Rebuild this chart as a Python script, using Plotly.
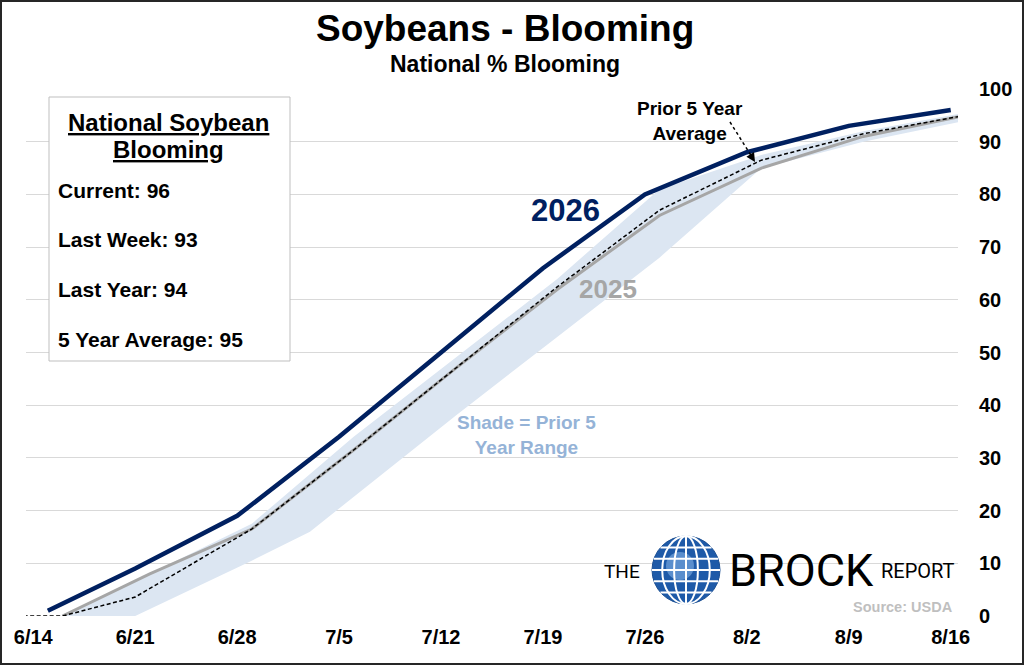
import plotly.graph_objects as go
import math

# ---------------- data ----------------
dates_2026 = ['2026-06-15', '2026-06-21', '2026-06-28', '2026-07-05', '2026-07-12',
              '2026-07-19', '2026-07-26', '2026-08-02', '2026-08-09', '2026-08-16']
vals_2026 = [1, 9, 19, 34, 50, 66, 80, 88, 93, 96]

dates_2025 = ['2026-06-16', '2026-06-22', '2026-06-29', '2026-07-06', '2026-07-13',
              '2026-07-20', '2026-07-27', '2026-08-03', '2026-08-10', '2026-08-17']
vals_2025 = [0, 8, 16.5, 31.5, 47, 62, 76, 85, 91, 95]

dates_avg = ['2026-06-12', '2026-06-16', '2026-06-21', '2026-06-29', '2026-07-06', '2026-07-13',
             '2026-07-20', '2026-07-27', '2026-08-03', '2026-08-10', '2026-08-17']
vals_avg = [0, 0, 3.6, 16.5, 31.5, 47, 62.5, 77, 86.5, 91.5, 95]

range_hi_dates = ['2026-06-12', '2026-06-16', '2026-06-22', '2026-06-29', '2026-07-06', '2026-07-13',
                  '2026-07-20', '2026-07-27', '2026-08-03', '2026-08-10', '2026-08-17']
range_hi = [0, 0, 8, 17.5, 34, 49, 64, 81, 87.5, 92, 95.5]

range_lo_dates = ['2026-06-12', '2026-06-21', '2026-06-29', '2026-07-03', '2026-07-13',
                  '2026-07-20', '2026-07-27', '2026-08-03', '2026-08-10', '2026-08-17']
range_lo = [0, 0, 10.5, 16, 38, 53, 68, 85, 90, 94]

tick_dates = ['2026-06-14', '2026-06-21', '2026-06-28', '2026-07-05', '2026-07-12',
              '2026-07-19', '2026-07-26', '2026-08-02', '2026-08-09', '2026-08-16']
tick_labels = ['6/14', '6/21', '6/28', '7/5', '7/12', '7/19', '7/26', '8/2', '8/9', '8/16']

y_ticks = [0, 10, 20, 30, 40, 50, 60, 70, 80, 90, 100]

box_title_lines = ['National Soybean', 'Blooming']
box_items = ['Current: 96', 'Last Week: 93', 'Last Year: 94', '5 Year Average: 95']

# ---------------- layout helpers ----------------
W, H = 1024, 665
L, R, T, B = 26, 958, 89, 616


def px(x):
    return (x - L) / (R - L)


def py(y):
    return (B - y) / (B - T)


FONT = 'Arial, Liberation Sans, sans-serif'
NAVY = '#002060'
GRAY = '#A6A6A6'
SHADE = '#DCE6F2'

fig = go.Figure()

# prior 5 year range shade
fig.add_trace(go.Scatter(
    x=range_hi_dates + range_lo_dates[::-1],
    y=range_hi + range_lo[::-1],
    fill='toself', fillcolor=SHADE, line=dict(width=0), mode='lines',
    hoverinfo='skip', showlegend=False))

fig.add_trace(go.Scatter(x=dates_2025, y=vals_2025, mode='lines',
                         line=dict(color=GRAY, width=3), showlegend=False, name='2025'))
fig.add_trace(go.Scatter(x=dates_avg, y=vals_avg, mode='lines',
                         line=dict(color='black', width=1.5, dash='4px,2.5px'),
                         showlegend=False, name='Prior 5 Year Average'))
fig.add_trace(go.Scatter(x=dates_2026, y=vals_2026, mode='lines',
                         line=dict(color=NAVY, width=4.5), showlegend=False, name='2026'))

shapes = []
annotations = []

# outer border
shapes.append(dict(type='rect', xref='paper', yref='paper',
                   x0=px(1), x1=px(1023), y0=py(664), y1=py(1),
                   line=dict(color='#262626', width=2), fillcolor='rgba(0,0,0,0)', layer='above'))

# info box
shapes.append(dict(type='rect', xref='paper', yref='paper',
                   x0=px(49), x1=px(290), y0=py(361), y1=py(97),
                   line=dict(color='#BFBFBF', width=1), fillcolor='white', layer='above'))

for i, line in enumerate(box_title_lines):
    annotations.append(dict(xref='paper', yref='paper', x=px(168), y=py(122 + i * 27),
                            text='<b><u>' + line + '</u></b>',
                            showarrow=False, font=dict(family=FONT, size=24, color='black'),
                            xanchor='center', yanchor='middle', align='center'))
for i, item in enumerate(box_items):
    annotations.append(dict(xref='paper', yref='paper', x=px(56), y=py(190 + i * 49.7),
                            text='<b>' + item + '</b>', showarrow=False,
                            font=dict(family=FONT, size=21, color='black'),
                            xanchor='left', yanchor='middle'))

# titles
annotations.append(dict(xref='paper', yref='paper', x=px(505), y=py(28),
                        text='<b>Soybeans - Blooming</b>', showarrow=False,
                        font=dict(family=FONT, size=37, color='black'),
                        xanchor='center', yanchor='middle'))
annotations.append(dict(xref='paper', yref='paper', x=px(505), y=py(64),
                        text='<b>National % Blooming</b>', showarrow=False,
                        font=dict(family=FONT, size=23, color='black'),
                        xanchor='center', yanchor='middle'))

# series labels
annotations.append(dict(xref='paper', yref='paper', x=px(565), y=py(211),
                        text='<b>2026</b>', showarrow=False,
                        font=dict(family=FONT, size=31, color=NAVY),
                        xanchor='center', yanchor='middle'))
annotations.append(dict(xref='paper', yref='paper', x=px(608), y=py(289),
                        text='<b>2025</b>', showarrow=False,
                        font=dict(family=FONT, size=26, color=GRAY),
                        xanchor='center', yanchor='middle'))
annotations.append(dict(xref='paper', yref='paper', x=px(526), y=py(435),
                        text='<b>Shade = Prior 5</b><br><b>Year Range</b>', showarrow=False,
                        font=dict(family=FONT, size=19, color='#95B3D7'),
                        xanchor='center', yanchor='middle', align='center'))
annotations.append(dict(xref='paper', yref='paper', x=px(690), y=py(121),
                        text='<b>Prior 5 Year</b><br><b>Average</b>', showarrow=False,
                        font=dict(family=FONT, size=19, color='black'),
                        xanchor='center', yanchor='middle', align='center'))
# dashed arrow
shapes.append(dict(type='line', xref='paper', yref='paper',
                   x0=px(730), y0=py(122), x1=px(752), y1=py(157),
                   line=dict(color='black', width=1.5, dash='dot'), layer='above'))
annotations.append(dict(xref='paper', yref='paper', x=px(755), y=py(162),
                        ax=-5, ay=-8, text='', showarrow=True, arrowhead=2,
                        arrowsize=1.2, arrowwidth=1.5, arrowcolor='black'))

# logo
annotations.append(dict(xref='paper', yref='paper', x=px(622), y=py(571),
                        text='THE', showarrow=False,
                        font=dict(family='Roboto', size=19, color='black'),
                        xanchor='center', yanchor='middle'))
annotations.append(dict(xref='paper', yref='paper', x=px(801), y=py(570),
                        text='BROCK', showarrow=False,
                        font=dict(family='Roboto', size=45, color='black'),
                        xanchor='center', yanchor='middle'))
annotations.append(dict(xref='paper', yref='paper', x=px(918), y=py(571),
                        text='REPORT', showarrow=False,
                        font=dict(family='Roboto', size=20, color='black'),
                        xanchor='center', yanchor='middle'))
annotations.append(dict(xref='paper', yref='paper', x=px(955), y=py(607),
                        text='<b>Source: USDA</b>', showarrow=False,
                        font=dict(family=FONT, size=14.5, color='#BFBFBF'),
                        xanchor='right', yanchor='middle'))

# globe
gcx, gcy, gr = 686, 570, 34
shapes.append(dict(type='circle', xref='paper', yref='paper',
                   x0=px(gcx - gr), x1=px(gcx + gr), y0=py(gcy + gr), y1=py(gcy - gr),
                   line=dict(color='#1B4F93', width=1), fillcolor='#1E5AA8', layer='above'))
shapes.append(dict(type='circle', xref='paper', yref='paper',
                   x0=px(gcx - 20), x1=px(gcx + 8), y0=py(gcy + 10), y1=py(gcy - 18),
                   line=dict(width=0), fillcolor='rgba(140,185,235,0.55)', layer='above'))
for fr in (0.35, 0.7):
    shapes.append(dict(type='circle', xref='paper', yref='paper',
                       x0=px(gcx - gr * fr), x1=px(gcx + gr * fr),
                       y0=py(gcy + gr), y1=py(gcy - gr),
                       line=dict(color='white', width=2), layer='above'))
shapes.append(dict(type='line', xref='paper', yref='paper',
                   x0=px(gcx), x1=px(gcx), y0=py(gcy + gr), y1=py(gcy - gr),
                   line=dict(color='white', width=2), layer='above'))
for fy in (-0.66, -0.33, 0.0, 0.33, 0.66):
    dy = gr * fy
    half = math.sqrt(gr * gr - dy * dy)
    shapes.append(dict(type='line', xref='paper', yref='paper',
                       x0=px(gcx - half), x1=px(gcx + half), y0=py(gcy + dy), y1=py(gcy + dy),
                       line=dict(color='white', width=2), layer='above'))

fig.update_layout(
    width=W, height=H,
    margin=dict(l=L, r=W - R, t=T, b=H - B),
    paper_bgcolor='white', plot_bgcolor='white',
    showlegend=False,
    shapes=shapes, annotations=annotations,
    xaxis=dict(type='date', range=['2026-06-13 12:00', '2026-08-16 12:00'],
               tickvals=tick_dates, ticktext=tick_labels, showgrid=False,
               zeroline=False, showline=False, ticks='',
               tickfont=dict(family=FONT, size=20, color='black', weight='bold'),
               ticklabelstandoff=7),
    yaxis=dict(range=[0, 100], tickvals=y_ticks, side='right', showgrid=True,
               gridcolor='#D9D9D9', gridwidth=1, zeroline=False, showline=False,
               ticks='', tickfont=dict(family=FONT, size=20, color='black', weight='bold'),
               ticklabelstandoff=20),
)

fig.write_html('out.html', config={'displayModeBar': False},
               post_script="document.body.style.margin='0';")
